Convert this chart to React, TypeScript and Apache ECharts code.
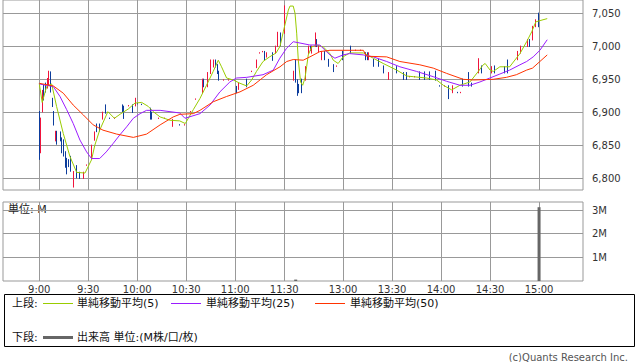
import React, { useEffect, useRef } from "react";
import * as echarts from "echarts";

// x positions are minute slots: 0 = 9:00, 150 = 11:30, 156 = 12:30, 306 = 15:00
const timeTickIdx = [0, 30, 60, 90, 120, 150, 186, 216, 246, 276, 306];
const timeTickLabels = ["9:00", "9:30", "10:00", "10:30", "11:00", "11:30", "13:00", "13:30", "14:00", "14:30", "15:00"];
const priceTicks = [6800, 6850, 6900, 6950, 7000, 7050];
const volTicks = [1, 2, 3];

// [slot, open, close, low, high]
const candles: number[][] = [
  [0, 6900, 6830, 6828, 6902], [1, 6840, 6890, 6838, 6892], [2, 6902, 6932, 6900, 6934],
  [3, 6940, 6920, 6918, 6942], [4, 6943, 6932, 6930, 6945], [5, 6938, 6950, 6936, 6952],
  [6, 6941, 6961, 6940, 6963], [7, 6961, 6932, 6930, 6962], [8, 6921, 6909, 6908, 6922],
  [9, 6901, 6882, 6880, 6902], [10, 6858, 6871, 6856, 6872], [11, 6871, 6853, 6851, 6872],
  [13, 6870, 6858, 6856, 6871], [14, 6861, 6840, 6838, 6862], [15, 6858, 6835, 6833, 6859],
  [16, 6840, 6818, 6816, 6841], [17, 6830, 6808, 6806, 6831], [18, 6828, 6819, 6817, 6829],
  [19, 6833, 6812, 6810, 6834], [21, 6790, 6810, 6786, 6811], [23, 6819, 6801, 6800, 6820],
  [25, 6809, 6800, 6799, 6810], [27, 6800, 6809, 6799, 6810], [29, 6820, 6820, 6819, 6821],
  [32, 6830, 6850, 6828, 6851], [34, 6858, 6870, 6857, 6871], [35, 6882, 6871, 6870, 6883],
  [37, 6882, 6872, 6871, 6883], [39, 6890, 6900, 6889, 6901], [41, 6911, 6899, 6898, 6912],
  [43, 6891, 6891, 6890, 6892], [46, 6891, 6891, 6890, 6892], [51, 6911, 6901, 6900, 6912],
  [52, 6909, 6891, 6890, 6910], [55, 6910, 6910, 6909, 6911], [57, 6911, 6900, 6899, 6912],
  [59, 6910, 6920, 6909, 6922], [60, 6913, 6913, 6912, 6914], [63, 6912, 6912, 6911, 6913],
  [68, 6906, 6890, 6889, 6907], [69, 6900, 6890, 6889, 6901], [73, 6891, 6891, 6890, 6892],
  [77, 6891, 6891, 6890, 6892], [82, 6880, 6889, 6878, 6890], [86, 6881, 6881, 6880, 6882],
  [89, 6881, 6881, 6880, 6882], [93, 6901, 6901, 6900, 6902], [96, 6920, 6920, 6919, 6921],
  [100, 6930, 6950, 6929, 6951], [101, 6950, 6939, 6938, 6951], [103, 6939, 6960, 6938, 6961],
  [105, 6959, 6979, 6958, 6980], [107, 6969, 6979, 6968, 6980], [108, 6979, 6969, 6968, 6980],
  [109, 6972, 6959, 6958, 6973], [110, 6962, 6949, 6948, 6963], [113, 6949, 6949, 6948, 6950],
  [116, 6949, 6949, 6948, 6950], [121, 6939, 6930, 6929, 6940], [122, 6935, 6944, 6934, 6945],
  [127, 6950, 6939, 6938, 6951], [130, 6962, 6962, 6961, 6963], [133, 6968, 6979, 6967, 6980],
  [135, 6990, 6990, 6989, 6991], [137, 6992, 6992, 6991, 6993], [138, 6992, 6980, 6979, 6993],
  [139, 6984, 6990, 6983, 6991], [143, 6990, 6979, 6978, 6991], [145, 6990, 7000, 6989, 7001],
  [146, 7000, 7020, 6999, 7022], [148, 7020, 7002, 7000, 7021], [150, 7020, 7061, 7019, 7062],
  [156, 6949, 6962, 6948, 6963], [157, 6977, 6949, 6945, 6980], [158, 6949, 6930, 6925, 6950],
  [159, 6942, 6930, 6929, 6943], [161, 6950, 6930, 6929, 6951], [163, 6949, 6969, 6948, 6970],
  [165, 6989, 7000, 6988, 7001], [166, 7000, 6994, 6993, 7001], [167, 6990, 7000, 6989, 7001],
  [169, 7000, 7020, 6999, 7021], [170, 7010, 7000, 6999, 7011], [171, 6992, 7000, 6991, 7001],
  [173, 6980, 6992, 6979, 6993], [175, 6992, 6980, 6979, 6993], [177, 6980, 6970, 6969, 6981],
  [180, 6972, 6962, 6961, 6973], [182, 6970, 6970, 6969, 6971], [186, 6992, 6980, 6979, 6993],
  [191, 7000, 6990, 6989, 7001], [194, 6994, 6994, 6993, 6995], [197, 6994, 6994, 6993, 6995],
  [200, 6990, 6980, 6979, 6991], [201, 6990, 6980, 6979, 6991], [202, 6980, 6990, 6979, 6991],
  [205, 6980, 6970, 6969, 6981], [208, 6980, 6970, 6969, 6981], [211, 6970, 6960, 6959, 6971],
  [214, 6950, 6960, 6949, 6961], [219, 6969, 6960, 6959, 6970], [223, 6960, 6950, 6949, 6961],
  [225, 6960, 6950, 6949, 6961], [227, 6954, 6954, 6953, 6955], [230, 6954, 6954, 6953, 6955],
  [233, 6961, 6950, 6949, 6962], [236, 6961, 6950, 6949, 6962], [239, 6961, 6950, 6949, 6962],
  [243, 6962, 6949, 6948, 6963], [245, 6940, 6940, 6939, 6941], [248, 6940, 6940, 6939, 6941],
  [251, 6940, 6930, 6920, 6941], [253, 6930, 6940, 6929, 6941], [256, 6930, 6930, 6929, 6931],
  [258, 6930, 6930, 6929, 6931], [259, 6950, 6940, 6939, 6951], [263, 6960, 6940, 6939, 6961],
  [265, 6944, 6940, 6939, 6945], [269, 6960, 6970, 6959, 6982], [271, 6970, 6960, 6959, 6971],
  [277, 6960, 6969, 6959, 6970], [279, 6970, 6960, 6959, 6971], [285, 6969, 6960, 6959, 6970],
  [287, 6970, 6960, 6959, 6980], [293, 6980, 6992, 6979, 6993], [295, 6990, 7000, 6989, 7001],
  [299, 7000, 7010, 6999, 7011], [300, 7010, 7000, 6999, 7011], [302, 7010, 7030, 7009, 7031],
  [304, 7030, 7040, 7029, 7041], [306, 7040, 7030, 7029, 7051],
];

// [slot, value]
const ma5: number[][] = [
  [0, 6944], [1.8, 6915], [4.5, 6939], [7.6, 6943], [10.6, 6909], [14.7, 6868], [18.8, 6833],
  [22.9, 6809], [28, 6808], [32, 6828], [34, 6850], [37, 6873], [42, 6901], [46, 6891], [50, 6898],
  [54.5, 6905], [58.6, 6914], [62.7, 6915], [66.7, 6909], [69.8, 6901], [74, 6893], [80, 6888],
  [86, 6887], [89.4, 6883], [94.3, 6904], [98.4, 6921], [102.4, 6941], [106.5, 6962], [109.6, 6979],
  [111.6, 6969], [114.7, 6952], [118.8, 6949], [122.9, 6944], [127, 6940], [130, 6949], [133, 6962],
  [137, 6977], [141, 6984], [145, 6990], [147.4, 7000], [149.4, 7022], [152.5, 7055], [153.5, 7061],
  [155.5, 7061], [156.6, 7050], [157.6, 7020], [158.6, 6979], [160, 6946], [161.3, 6941],
  [162.7, 6952], [163.7, 6969], [164.7, 6987], [166.8, 6999], [169.8, 7002], [173.9, 6999],
  [178, 6989], [180, 6979], [183, 6974], [186, 6984], [190, 6990], [198.4, 6990], [204.5, 6982],
  [210.6, 6974], [218.8, 6964], [225, 6955], [229, 6954], [237, 6952], [243.3, 6949], [247.4, 6941],
  [252.5, 6934], [257.6, 6941], [263.7, 6946], [268.8, 6962], [271.8, 6972], [273, 6974],
  [276, 6964], [278, 6962], [282, 6969], [288, 6969], [294.3, 6989], [298.4, 7007], [301.5, 7022],
  [304, 7037], [306.6, 7039], [311, 7042],
];
const ma25: number[][] = [
  [0, 6943], [8.6, 6939], [12.7, 6924], [16.8, 6904], [20.8, 6883], [24.9, 6858], [29, 6840],
  [32, 6830], [37, 6830], [41, 6840], [45.3, 6853], [49.4, 6866], [53.5, 6878], [57.6, 6891],
  [61.7, 6898], [65.7, 6903], [74, 6903], [86, 6899], [89.2, 6891], [98.4, 6898], [104.5, 6911],
  [110.6, 6931], [116.7, 6946], [120.8, 6952], [127, 6953], [137, 6957], [143.3, 6964],
  [147.3, 6982], [151.4, 6997], [155.5, 7007], [159.6, 7005], [165.7, 7002], [171.8, 7002],
  [175, 6994], [178, 6987], [181, 6982], [186, 6987], [190, 6989], [198.4, 6987], [204.5, 6984],
  [212.7, 6977], [220.8, 6969], [231, 6962], [241.2, 6954], [249.4, 6947], [257.6, 6941],
  [263.7, 6941], [269.8, 6946], [275.9, 6952], [282, 6958], [288, 6964], [294.3, 6972],
  [298.4, 6977], [302.4, 6984], [306.5, 6994], [311, 7010],
];
const ma50: number[][] = [
  [0, 6944], [8.6, 6940], [14.7, 6929], [20.8, 6911], [27, 6896], [33, 6881], [39, 6873],
  [47.4, 6867], [57.6, 6862], [65.7, 6867], [74, 6881], [82, 6893], [86.1, 6897], [94.3, 6898],
  [98.4, 6903], [106.5, 6916], [114.7, 6924], [122.9, 6931], [131, 6941], [139.2, 6957],
  [147.4, 6969], [151.5, 6977], [155.5, 6980], [161.6, 6979], [165.7, 6984], [171.8, 6992],
  [178, 6994], [198.4, 6994], [200.4, 6985], [212.7, 6984], [220.8, 6977], [233, 6972],
  [241.2, 6967], [249.4, 6959], [259.6, 6950], [265.7, 6949], [277.9, 6950], [286, 6953],
  [292.1, 6957], [298.4, 6964], [302, 6967], [306.5, 6977], [311, 6987],
];
// [slot, volume in M]
const volume: number[][] = [[157, 0.06], [306, 3.12]];

const FONT = '"DejaVu Sans", "Noto Sans CJK JP", sans-serif';
const RED = "#f0143c";
const BLUE = "#0c3c9c";
const GRID = "#999999";

export default function App() {
  const ref = useRef<HTMLDivElement>(null);
  useEffect(() => {
    const chart = echarts.init(ref.current!, null, { renderer: "svg" });
    const xCommon = {
      type: "value",
      min: -22.2,
      max: 332.9,
      axisLine: { show: false },
      axisTick: { show: false, customValues: timeTickIdx },
      splitLine: { show: true, lineStyle: { color: GRID, width: 1 } },
    };
    const option: any = {
      animation: false,
      backgroundColor: "#ffffff",
      textStyle: { fontFamily: FONT },
      grid: [
        { left: 3, top: 0, width: 580, height: 190, show: true, borderColor: GRID, borderWidth: 1, containLabel: false, outerBoundsMode: "none" },
        { left: 3, top: 202, width: 580, height: 79, show: true, borderColor: GRID, borderWidth: 1, containLabel: false, outerBoundsMode: "none" },
      ],
      xAxis: [
        { ...xCommon, gridIndex: 0, axisLabel: { show: false, customValues: timeTickIdx } },
        {
          ...xCommon,
          gridIndex: 1,
          axisLabel: {
            show: true,
            customValues: timeTickIdx,
            formatter: (v: number) => timeTickLabels[timeTickIdx.indexOf(Math.round(v))] ?? "",
            fontSize: 10,
            color: "#333",
            margin: 3,
            fontFamily: FONT,
          },
        },
      ],
      yAxis: [
        {
          type: "value",
          gridIndex: 0,
          position: "right",
          min: 6782.3,
          max: 7070.2,
          axisLine: { show: false },
          axisTick: { show: true, length: 4, customValues: priceTicks, lineStyle: { color: GRID } },
          axisLabel: {
            customValues: priceTicks,
            formatter: (v: number) => v.toLocaleString("en-US"),
            fontSize: 10,
            color: "#333",
            margin: 9,
            fontFamily: FONT,
          },
          splitLine: { show: true, lineStyle: { color: GRID, width: 1 } },
        },
        {
          type: "value",
          gridIndex: 1,
          position: "right",
          min: 0,
          max: 3.34,
          axisLine: { show: false },
          axisTick: { show: true, length: 4, customValues: volTicks, lineStyle: { color: GRID } },
          axisLabel: {
            customValues: volTicks,
            formatter: (v: number) => `${v}M`,
            fontSize: 10,
            color: "#333",
            margin: 9,
            fontFamily: FONT,
          },
          splitLine: { show: true, lineStyle: { color: GRID, width: 1 } },
        },
      ],
      series: [
        {
          type: "candlestick",
          xAxisIndex: 0,
          yAxisIndex: 0,
          data: candles,
          barWidth: 1,
          z: 2,
          itemStyle: { color: RED, color0: BLUE, borderColor: RED, borderColor0: BLUE, borderWidth: 1 },
        },
        {
          type: "line", name: "ma5", xAxisIndex: 0, yAxisIndex: 0, data: ma5, showSymbol: false, z: 3,
          lineStyle: { color: "#99cc00", width: 1 }, itemStyle: { color: "#99cc00" },
        },
        {
          type: "line", name: "ma25", xAxisIndex: 0, yAxisIndex: 0, data: ma25, showSymbol: false, z: 3,
          lineStyle: { color: "#9b1cff", width: 1 }, itemStyle: { color: "#9b1cff" },
        },
        {
          type: "line", name: "ma50", xAxisIndex: 0, yAxisIndex: 0, data: ma50, showSymbol: false, z: 3,
          lineStyle: { color: "#ff3300", width: 1 }, itemStyle: { color: "#ff3300" },
        },
        {
          type: "bar", xAxisIndex: 1, yAxisIndex: 1, data: volume, barWidth: 3,
          itemStyle: { color: "#666666" },
        },
      ],
      graphic: [
        { type: "text", left: 8, top: 204, style: { text: "単位: M", font: `11px ${FONT}`, fill: "#222" } },
        { type: "rect", shape: { x: 4.5, y: 294.5, width: 630, height: 52 }, style: { fill: "#fff", stroke: "#000", lineWidth: 1 } },
        { type: "text", x: 12, y: 303, style: { text: "上段:", font: `11px ${FONT}`, fill: "#111", verticalAlign: "middle" } },
        { type: "line", shape: { x1: 43, y1: 303.5, x2: 73, y2: 303.5 }, style: { stroke: "#99cc00", lineWidth: 1 } },
        { type: "text", x: 77, y: 303, style: { text: "単純移動平均(5)", font: `11px ${FONT}`, fill: "#111", verticalAlign: "middle" } },
        { type: "line", shape: { x1: 171, y1: 303.5, x2: 201, y2: 303.5 }, style: { stroke: "#9b1cff", lineWidth: 1 } },
        { type: "text", x: 206, y: 303, style: { text: "単純移動平均(25)", font: `11px ${FONT}`, fill: "#111", verticalAlign: "middle" } },
        { type: "line", shape: { x1: 315, y1: 303.5, x2: 345, y2: 303.5 }, style: { stroke: "#ff3300", lineWidth: 1 } },
        { type: "text", x: 350, y: 303, style: { text: "単純移動平均(50)", font: `11px ${FONT}`, fill: "#111", verticalAlign: "middle" } },
        { type: "text", x: 12, y: 337, style: { text: "下段:", font: `11px ${FONT}`, fill: "#111", verticalAlign: "middle" } },
        { type: "line", shape: { x1: 43, y1: 337.5, x2: 73, y2: 337.5 }, style: { stroke: "#666666", lineWidth: 3 } },
        { type: "text", x: 77, y: 337, style: { text: "出来高 単位:(M株/口/枚)", font: `11px ${FONT}`, fill: "#111", verticalAlign: "middle" } },
        { type: "text", x: 628, y: 357, style: { text: "(c)Quants Research Inc.", font: `10px ${FONT}`, fill: "#555", align: "right", verticalAlign: "middle" } },
      ],
    };
    chart.setOption(option);
    return () => chart.dispose();
  }, []);
  return <div ref={ref} style={{ position: "absolute", left: 0, top: 0, width: 638, height: 362 }} />;
}
